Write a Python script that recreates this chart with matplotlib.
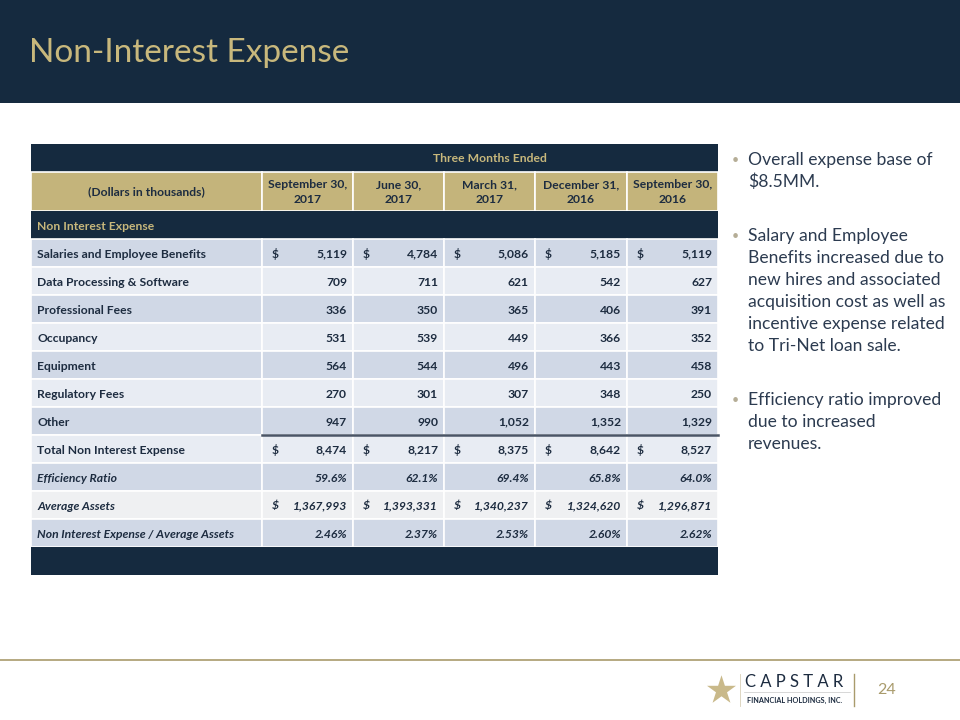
import numpy as np
import matplotlib.pyplot as plt
from matplotlib.patches import Rectangle

# -----------------------------
# Data
# -----------------------------
title = "Non-Interest Expense"
period_header = "Three Months Ended"
label_header = "(Dollars in thousands)"
col_headers = ["September 30,\n2017", "June 30,\n2017", "March 31,\n2017",
               "December 31,\n2016", "September 30,\n2016"]
section_label = "Non Interest Expense"

row_labels = ["Salaries and Employee Benefits", "Data Processing & Software",
              "Professional Fees", "Occupancy", "Equipment", "Regulatory Fees",
              "Other", "Total Non Interest Expense", "Efficiency Ratio",
              "Average Assets", "Non Interest Expense / Average Assets"]

salaries = [5119, 4784, 5086, 5185, 5119]
data_processing = [709, 711, 621, 542, 627]
professional_fees = [336, 350, 365, 406, 391]
occupancy = [531, 539, 449, 366, 352]
equipment = [564, 544, 496, 443, 458]
regulatory_fees = [270, 301, 307, 348, 250]
other = [947, 990, 1052, 1352, 1329]
total_expense = [8474, 8217, 8375, 8642, 8527]
efficiency_ratio = [59.6, 62.1, 69.4, 65.8, 64.0]
average_assets = [1367993, 1393331, 1340237, 1324620, 1296871]
nie_over_assets = [2.46, 2.37, 2.53, 2.60, 2.62]

bullets = [
    ["Overall expense base of", "$8.5MM."],
    ["Salary and Employee", "Benefits increased due to", "new hires and associated",
     "acquisition cost as well as", "incentive expense related",
     "to Tri-Net loan sale."],
    ["Efficiency ratio improved", "due to increased", "revenues."],
]
page_number = "24"

# -----------------------------
# Styling
# -----------------------------
NAVY = "#152a3f"
GOLD = "#c8b87c"
GOLD_FILL = "#c4b47b"
ROW_DARK = "#d0d8e6"
ROW_LIGHT = "#e8ecf3"
ROW_GREY = "#eff0f2"
TXT = "#1d2c40"
BODY = "#2c3b50"
FS = 8.7

plt.rcParams['font.family'] = ['Lato', 'DejaVu Sans']

fig = plt.figure(figsize=(9.6, 7.2), dpi=100)
ax = fig.add_axes([0, 0, 1, 1])
ax.set_xlim(0, 960)
ax.set_ylim(720, 0)
ax.axis("off")

# title band
ax.add_patch(Rectangle((0, 0), 960, 103, color=NAVY, lw=0))
ax.text(29, 53, title, color=GOLD, fontsize=24, va="center", ha="left")

# -----------------------------
# Table
# -----------------------------
x_edges = [31, 262, 353, 444, 535, 627, 718]
row_h = 28
y0 = 144

def cell(x, y, w, h, fc):
    ax.add_patch(Rectangle((x, y), w, h, facecolor=fc, edgecolor="white", lw=1.2))

# top dark row with period header
ax.add_patch(Rectangle((x_edges[0], y0), x_edges[-1] - x_edges[0], 28, color=NAVY, lw=0))
ax.text((x_edges[1] + x_edges[-1]) / 2, y0 + 15, period_header, color=GOLD,
        fontsize=FS, fontweight="bold", ha="center", va="center")

# gold header row
yh = y0 + 28
for i in range(6):
    cell(x_edges[i], yh, x_edges[i + 1] - x_edges[i], 39, GOLD_FILL)
ax.text((x_edges[0] + x_edges[1]) / 2, yh + 20, label_header, color=TXT,
        fontsize=FS, fontweight="bold", ha="center", va="center")
for i, h in enumerate(col_headers):
    ax.text((x_edges[i + 1] + x_edges[i + 2]) / 2, yh + 20, h, color=TXT,
            fontsize=FS, fontweight="bold", ha="center", va="center", linespacing=1.35)

# section row
ys = yh + 39
ax.add_patch(Rectangle((x_edges[0], ys), x_edges[-1] - x_edges[0], 28, color=NAVY, lw=0))
ax.text(x_edges[0] + 6, ys + 15, section_label, color=GOLD, fontsize=FS,
        fontweight="bold", ha="left", va="center")

rows = [salaries, data_processing, professional_fees, occupancy, equipment,
        regulatory_fees, other, total_expense, efficiency_ratio, average_assets,
        nie_over_assets]
dollar_rows = {0, 7, 9}
italic_rows = {8, 9, 10}

yr = ys + 28
for r, (label, vals) in enumerate(zip(row_labels, rows)):
    y = yr + r * row_h
    if r == 9:
        fc = ROW_GREY
    else:
        fc = ROW_DARK if r % 2 == 0 else ROW_LIGHT
    style = "italic" if r in italic_rows else "normal"
    for i in range(6):
        cell(x_edges[i], y, x_edges[i + 1] - x_edges[i], row_h, fc)
    ax.text(x_edges[0] + 6, y + row_h / 2 + 1, label, color=TXT, fontsize=FS,
            fontweight="bold", style=style, ha="left", va="center")
    for i, v in enumerate(vals):
        if r == 8:
            s = f"{v:.1f}%"
        elif r == 10:
            s = f"{v:.2f}%"
        else:
            s = f"{v:,}"
        ax.text(x_edges[i + 2] - 6, y + row_h / 2 + 1, s, color=TXT, fontsize=FS,
                fontweight="bold", style=style, ha="right", va="center")
        if r in dollar_rows:
            ax.text(x_edges[i + 1] + 10, y + row_h / 2 + 1, "$", color=TXT,
                    fontsize=FS, fontweight="bold", style=style, ha="left", va="center")

# rule above total
y_tot = yr + 7 * row_h
ax.plot([x_edges[1], x_edges[-1]], [y_tot, y_tot], color="#4a5566", lw=1.8)

# bottom band
yb = yr + len(rows) * row_h
ax.add_patch(Rectangle((x_edges[0], yb), x_edges[-1] - x_edges[0], 28, color=NAVY, lw=0))

# -----------------------------
# Bullets
# -----------------------------
line_h = 22
y = 160
for block in bullets:
    ax.text(732, y, "\u2022", color="#b5ad96", fontsize=9, ha="left", va="center")
    for line in block:
        ax.text(748, y, line, color=BODY, fontsize=12.6, ha="left", va="center")
        y += line_h
    y += line_h + 10

# -----------------------------
# Footer
# -----------------------------
ax.plot([0, 960], [660, 660], color="#a99b6c", lw=1.2)
ax.scatter([721], [690], marker="*", s=480, color="#c9b98a", lw=0)
ax.plot([740, 740], [674, 706], color="#d8d0b8", lw=0.6)
ax.plot([744, 850], [692, 692], color="#c8c8c8", lw=0.5)
ax.text(745, 682, "C A P S T A R", color="#1d2c40", fontsize=12, ha="left",
        va="center")
ax.text(747, 700, "FINANCIAL HOLDINGS, INC.", color="#1d2c40", fontsize=5.2,
        ha="left", va="center", fontweight="bold")
ax.plot([854, 854], [674, 706], color="#a99b6c", lw=1)
ax.text(877, 690, page_number, color="#a99b6c", fontsize=11.5, ha="left", va="center")

fig.savefig("out.png", dpi=100, facecolor="white")
